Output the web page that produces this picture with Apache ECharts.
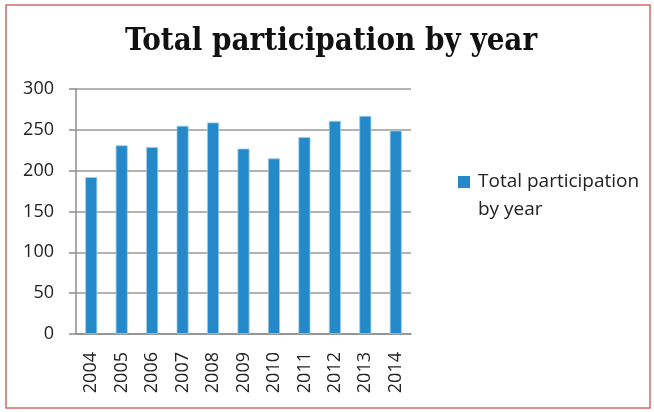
<!DOCTYPE html>
<html><head><meta charset="utf-8">
<script src="https://cdn.jsdelivr.net/npm/echarts@6/dist/echarts.min.js"></script>
<style>html,body{margin:0;padding:0;background:#fff}#c{width:654px;height:412px}</style>
</head><body><div id="c"></div>
<script>
var categories = ['2004','2005','2006','2007','2008','2009','2010','2011','2012','2013','2014'];
var values = [192,231,229,255,259,227,215,241,261,267,249];
var seriesName = 'Total participation by year';
var chart = echarts.init(document.getElementById('c'));
chart.setOption({
  animation:false,
  title:{text:'Total participation by year',left:120,top:21,
    textStyle:{fontFamily:'"DejaVu Serif Condensed", "DejaVu Serif"',fontWeight:'bold',fontSize:31,color:'#111'}},
  graphic:[{type:'rect',shape:{x:6,y:5,width:644,height:403},style:{fill:'none',stroke:'#d46a6a',lineWidth:1.5}}],
  legend:{orient:'vertical',left:453,top:135,itemWidth:12,itemHeight:12,icon:'rect',itemGap:6,
    itemStyle:{borderWidth:0},
    formatter:function(){return ' \nTotal participation\nby year';},
    textStyle:{fontFamily:'Open Sans',fontSize:19,color:'#222',lineHeight:28,padding:[0,0,0,3]}},
  grid:{left:76,right:243,top:89,bottom:78},
  xAxis:{type:'category',data:categories,
    axisLine:{lineStyle:{color:'#8c8c8c',width:1.5}},
    axisTick:{length:9,lineStyle:{color:'#8c8c8c',width:1.5}},
    axisLabel:{rotate:90,fontFamily:'Open Sans',fontSize:18,color:'#222',margin:18}},
  yAxis:{type:'value',min:0,max:300,interval:50,
    axisLine:{show:true,lineStyle:{color:'#8c8c8c',width:1.5}},
    axisTick:{show:true,length:7,lineStyle:{color:'#8c8c8c',width:1.5}},
    splitLine:{lineStyle:{color:'#9a9a9a',width:1.5}},
    axisLabel:{fontFamily:'Open Sans',fontSize:18,color:'#222',margin:22}},
  series:[{name:seriesName,type:'bar',data:values,barWidth:12,
    itemStyle:{color:'#2389c8',borderColor:'#9ccbe9',borderWidth:0.8}}]
});
</script></body></html>
